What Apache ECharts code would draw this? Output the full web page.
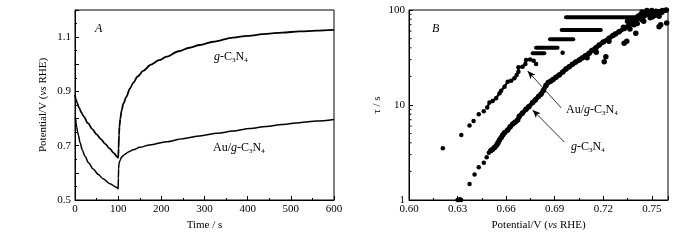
<!DOCTYPE html>
<html>
<head>
<meta charset="utf-8">
<script src="https://cdn.jsdelivr.net/npm/echarts@6/dist/echarts.min.js"></script>
<style>
html, body { margin: 0; padding: 0; background: #fff; }
#chart { width: 700px; height: 240px; }
</style>
</head>
<body>
<div id="chart"></div>
<script>
// ---- panel A: potential decay / recovery, [time s, V vs RHE] ----
var gcnCurve = [
  [0, 0.887], [2, 0.872], [5, 0.857], [10, 0.838], [15, 0.822], [20, 0.808], [30, 0.783],
  [40, 0.761], [50, 0.742], [60, 0.724], [70, 0.707], [80, 0.690], [90, 0.673], [97, 0.660],
  [100, 0.655], [101, 0.69], [102, 0.74], [103, 0.77], [105, 0.80], [108, 0.83], [112, 0.855],
  [119, 0.88], [127, 0.91], [135, 0.932], [145, 0.955], [158, 0.976], [175, 0.998], [195, 1.015],
  [212, 1.028], [240, 1.048], [265, 1.061], [289, 1.071], [320, 1.083], [366, 1.098], [400, 1.105],
  [443, 1.112], [480, 1.117], [520, 1.121], [560, 1.124], [600, 1.127]
];
var auCurve = [
  [0, 0.803], [1.5, 0.800], [2.5, 0.785], [4, 0.768], [6, 0.752], [8, 0.738], [11.6, 0.712],
  [17, 0.684], [23, 0.661], [32, 0.636], [42, 0.614], [54, 0.594], [65, 0.578], [81, 0.560],
  [96, 0.547], [100, 0.541], [100.5, 0.58], [101, 0.615], [102, 0.635], [104, 0.645], [108, 0.658],
  [115, 0.668], [125, 0.678], [135, 0.685], [150, 0.694], [173, 0.703], [212, 0.715], [250, 0.726],
  [289, 0.736], [330, 0.746], [366, 0.754], [405, 0.763], [443, 0.771], [480, 0.778], [520, 0.785],
  [560, 0.791], [600, 0.797]
];

// ---- panel B: tau vs potential, [V vs RHE, tau s] ----
var gcnDots = [
  [0.6300, 1.0], [0.6308, 1.0], [0.6315, 1.02], [0.6322, 1.0], [0.6374, 1.47], [0.6405, 1.86],
  [0.6431, 2.21], [0.6462, 2.47], [0.6480, 2.81], [0.6493, 3.15]
];
var gcnRibbon = [
  [0.6505, 3.3], [0.6517, 3.42], [0.653, 3.6], [0.6542, 3.79], [0.655, 4.0], [0.6559, 4.28],
  [0.657, 4.55], [0.6579, 4.83], [0.659, 5.1], [0.661, 5.46], [0.6625, 5.9], [0.6641, 6.3],
  [0.6655, 6.6], [0.6671, 6.95], [0.6682, 7.6], [0.670, 8.2], [0.6723, 9.0], [0.674, 9.6],
  [0.6764, 10.6], [0.678, 11.3], [0.680, 12.3], [0.6815, 13.0], [0.683, 14.2], [0.6846, 16.0],
  [0.686, 17.2], [0.6875, 17.8], [0.689, 18.5], [0.6908, 19.6], [0.6928, 20.7], [0.695, 22.3],
  [0.697, 24.0], [0.699, 25.3], [0.701, 26.8], [0.703, 28.3], [0.7052, 29.8], [0.707, 31.3],
  [0.709, 33.0], [0.7113, 35], [0.713, 37.5], [0.7155, 40], [0.7175, 42.8], [0.720, 46],
  [0.7236, 50.4], [0.726, 54], [0.7298, 59.1], [0.733, 64], [0.736, 69.5], [0.739, 75],
  [0.7421, 81.7], [0.745, 86], [0.7483, 90.7], [0.751, 94], [0.7545, 96], [0.757, 98], [0.759, 100]
];
var gcnScatter = [
  [0.7206, 28.6], [0.7216, 32.3], [0.7329, 44.6], [0.7345, 47], [0.7401, 56.8], [0.7545, 66.7],
  [0.7555, 70], [0.7592, 73], [0.735, 76], [0.738, 80], [0.741, 72], [0.744, 79], [0.746, 93],
  [0.749, 83], [0.752, 88], [0.747, 99], [0.743, 89], [0.739, 70], [0.750, 99], [0.753, 92],
  [0.756, 94], [0.758, 99], [0.7545, 86], [0.7365, 63], [0.7275, 56], [0.7235, 47], [0.7157, 36],
  [0.710, 31.5], [0.745, 76], [0.7505, 85], [0.748, 95], [0.7415, 86], [0.7375, 74], [0.7325, 66],
  [0.744, 95], [0.7525, 97], [0.7565, 99]
];
var auDots = [
  [0.6209, 3.5], [0.6323, 4.83], [0.6374, 6.1], [0.6399, 6.8], [0.6431, 8.0], [0.6462, 8.6],
  [0.6949, 35.5]
];
var auTrace = [
  [0.6483, 9.4], [0.6497, 10.6], [0.6517, 11.0], [0.6538, 11.8], [0.6559, 13.3], [0.6569, 14.1],
  [0.659, 15.6], [0.661, 17.6], [0.6631, 18.0], [0.6651, 19.1], [0.6665, 20.7], [0.6676, 22.4],
  [0.6676, 24.9], [0.6702, 25.3], [0.6719, 27], [0.6723, 29.8], [0.6748, 30.2], [0.677, 29.3],
  [0.6785, 27]
];
// plateaus of the Au/g-C3N4 set: [V start, V end, tau]
var auSteps = [
  [0.6764, 0.6836, 35.0], [0.6785, 0.6918, 40.1], [0.6871, 0.7015, 49.2],
  [0.6943, 0.7185, 61.6], [0.697, 0.740, 84]
];
var logMinor = [2, 3, 4, 5, 6, 7, 8, 9, 20, 30, 40, 50, 60, 70, 80, 90];

var FONT = '"Liberation Serif", "Times New Roman", serif';
var chart = echarts.init(document.getElementById('chart'));

function axisBase() {
  return {
    axisLine: { show: true, lineStyle: { color: '#000', width: 1 } },
    axisTick: { show: true, inside: true, length: 4, lineStyle: { color: '#000' } },
    minorTick: { show: true, length: 2, lineStyle: { color: '#000' } },
    splitLine: { show: false },
    axisLabel: { color: '#000', fontFamily: FONT, fontSize: 11, margin: 4 },
    nameTextStyle: {
      color: '#000', fontFamily: FONT, fontSize: 11,
      rich: { i: { fontStyle: 'italic', fontFamily: FONT, fontSize: 11, color: '#000' } }
    }
  };
}

var xA = Object.assign(axisBase(), {
  type: 'value', gridIndex: 0, min: 0, max: 600, interval: 100,
  name: 'Time / s', nameLocation: 'middle', nameGap: 17
});
xA.minorTick.splitNumber = 2;
var yA = Object.assign(axisBase(), {
  type: 'value', gridIndex: 0, min: 0.5, max: 1.2, interval: 0.1,
  name: 'Potential/V ({i|vs} RHE)', nameLocation: 'middle', nameGap: 26
});
yA.minorTick.splitNumber = 2;
yA.axisLabel.formatter = function (v) {
  var r = Math.round(v * 10);
  return r % 2 === 1 ? v.toFixed(1) : '';
};
var xB = Object.assign(axisBase(), {
  type: 'value', gridIndex: 1, min: 0.6, max: 0.76, interval: 0.03,
  name: 'Potential/V ({i|vs} RHE)', nameLocation: 'middle', nameGap: 17
});
xB.minorTick.splitNumber = 2;
xB.axisLabel.showMaxLabel = false;
xB.axisLabel.formatter = function (v) {
  return Math.abs(v - 0.76) < 1e-6 ? '' : v.toFixed(2);
};
var yB = Object.assign(axisBase(), {
  type: 'log', logBase: 10, gridIndex: 1, min: 1, max: 100,
  name: 'τ / s', nameLocation: 'middle', nameGap: 26
});
yB.minorTick = { show: false };

var dotStyle = { color: '#000', opacity: 1 };
var series = [
  { type: 'line', xAxisIndex: 0, yAxisIndex: 0, data: gcnCurve, showSymbol: false,
    smooth: 0.3, smoothMonotone: 'x', lineStyle: { color: '#000', width: 1.8 } },
  { type: 'line', xAxisIndex: 0, yAxisIndex: 0, data: auCurve, showSymbol: false,
    smooth: 0.3, smoothMonotone: 'x', lineStyle: { color: '#000', width: 1.5 } },
  { type: 'scatter', xAxisIndex: 1, yAxisIndex: 1, data: gcnDots, symbolSize: 4.5, itemStyle: dotStyle },
  { type: 'line', xAxisIndex: 1, yAxisIndex: 1, data: gcnRibbon, symbol: 'circle', symbolSize: 5.5,
    showAllSymbol: true, itemStyle: dotStyle, lineStyle: { color: '#000', width: 4.5 },
    markLine: {
      silent: true, symbol: ['none', 'arrow'], symbolSize: [5, 8], animation: false,
      label: { show: false },
      lineStyle: { color: '#000', width: 0.8, type: 'solid', opacity: 1 },
      data: [
        [{ coord: [0.6941, 9.3] }, { coord: [0.6733, 22.8] }],
        [{ coord: [0.6959, 4.08] }, { coord: [0.6764, 8.86] }]
      ]
    } },
  { type: 'scatter', xAxisIndex: 1, yAxisIndex: 1, data: gcnScatter, symbolSize: 5.5, itemStyle: dotStyle },
  { type: 'scatter', xAxisIndex: 1, yAxisIndex: 1, data: auDots, symbolSize: 4.5, itemStyle: dotStyle },
  { type: 'line', xAxisIndex: 1, yAxisIndex: 1, data: auTrace, symbol: 'circle', symbolSize: 4.5,
    showAllSymbol: true, itemStyle: dotStyle, lineStyle: { color: '#000', width: 2.4 } },
  { type: 'custom', xAxisIndex: 1, yAxisIndex: 1, silent: true, clip: false,
    data: logMinor.map(function (v) { return [0.6, v]; }),
    renderItem: function (params, api) {
      var p = api.coord([api.value(0), api.value(1)]);
      return { type: 'line', shape: { x1: p[0], y1: p[1], x2: p[0] + 2.5, y2: p[1] },
        style: { stroke: '#000', lineWidth: 1 } };
    } }
];
auSteps.forEach(function (s) {
  series.push({ type: 'line', xAxisIndex: 1, yAxisIndex: 1, showSymbol: false,
    data: [[s[0], s[2]], [s[1], s[2]]],
    lineStyle: { color: '#000', width: 4, cap: 'round' } });
});

function label(x, y, text, italic) {
  return {
    type: 'text', x: x, y: y, silent: true,
    style: {
      text: text, fill: '#000', fontFamily: FONT, fontSize: 12, verticalAlign: 'middle',
      fontStyle: italic ? 'italic' : 'normal',
      rich: {
        i: { fontStyle: 'italic', fontFamily: FONT, fontSize: 12, fill: '#000' },
        s: { fontFamily: FONT, fontSize: 7, fill: '#000', verticalAlign: 'bottom', padding: [6, 0, 0, 0] }
      }
    }
  };
}

chart.setOption({
  animation: false,
  backgroundColor: '#fff',
  grid: [
    { left: 75, top: 10, width: 259, height: 190, show: true, borderColor: '#000', borderWidth: 1 },
    { left: 409, top: 10, width: 259, height: 190, show: true, borderColor: '#000', borderWidth: 1 }
  ],
  xAxis: [xA, xB],
  yAxis: [yA, yB],
  series: series,
  graphic: [
    label(95, 29, 'A', true),
    label(432, 29, 'B', true),
    label(214, 57, '{i|g}-C{s|3}N{s|4}'),
    label(213, 148, 'Au/{i|g}-C{s|3}N{s|4}'),
    label(566, 110, 'Au/{i|g}-C{s|3}N{s|4}'),
    label(571, 147, '{i|g}-C{s|3}N{s|4}')
  ]
});
</script>
</body>
</html>
